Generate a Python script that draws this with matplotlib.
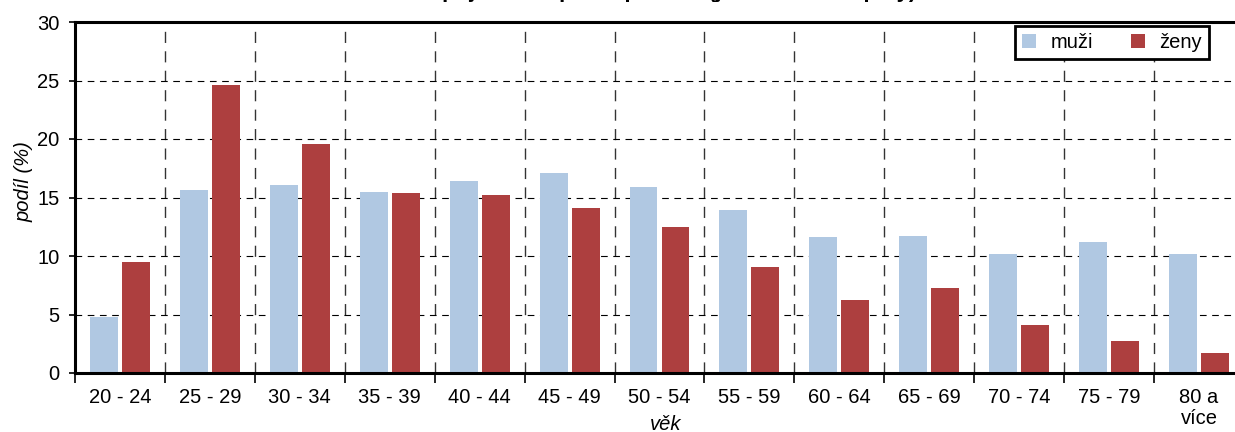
import matplotlib.pyplot as plt
import numpy as np

plt.rcParams['font.family'] = ['Liberation Sans', 'DejaVu Sans']
plt.rcParams['font.size'] = 14.5

# data
vek = ['20 - 24', '25 - 29', '30 - 34', '35 - 39', '40 - 44', '45 - 49',
       '50 - 54', '55 - 59', '60 - 64', '65 - 69', '70 - 74', '75 - 79',
       '80 a\nvíce']
muzi = [4.8, 15.6, 16.1, 15.5, 16.4, 17.1, 15.9, 13.9, 11.6, 11.7, 10.2, 11.2, 10.2]
zeny = [9.5, 24.6, 19.6, 15.4, 15.2, 14.1, 12.5, 9.1, 6.2, 7.3, 4.1, 2.7, 1.7]

modra = '#B0C8E2'
cervena = '#AD3F3F'

fig = plt.figure(figsize=(12.35, 4.32), dpi=100)
# right edge of the plot is cut off in the reference, so let the axes run past it
ax = fig.add_axes([75/1235, 59/432, 1169/1235, 351/432])

x = np.arange(len(vek))
w = 0.31
off = 0.178
ax.bar(x - off, muzi, w, color=modra, label='muži', zorder=3)
ax.bar(x + off, zeny, w, color=cervena, label='ženy', zorder=3)

ax.set_xlim(-0.5, len(vek) - 0.5)
ax.set_ylim(0, 30)
ax.set_yticks(np.arange(0, 31, 5))

ax.set_xticks(x)
ax.set_xticklabels(vek, va='top', linespacing=1.1)
ax.set_xticks(np.arange(-0.5, len(vek), 1), minor=True)
ax.tick_params(axis='x', which='major', length=0, pad=11)
ax.tick_params(axis='x', which='minor', length=7, width=1.2, direction='out')
ax.tick_params(axis='y', length=4.5, width=1.2, direction='out', pad=6.5)

# grid
ax.grid(axis='x', which='minor', color='#333333', linestyle=(0, (8, 6)), linewidth=1, zorder=1)
ax.grid(axis='y', which='major', color='black', linestyle=(0, (6, 5)), linewidth=0.8, zorder=1)
ax.grid(axis='x', which='major', visible=False)

for s in ['top', 'left', 'bottom', 'right']:
    ax.spines[s].set_linewidth(2.2)
ax.spines['bottom'].set_zorder(4)

ax.set_ylabel('podíl (%)', style='italic', va='center', ha='center')
ax.yaxis.set_label_coords(-0.0436, 0.545)
ax.set_xlabel('věk', style='italic', va='center')
ax.xaxis.set_label_coords(0.505, -0.147)

leg = ax.legend(loc='upper right', bbox_to_anchor=(0.970, 0.989), ncol=2,
                fancybox=False, edgecolor='black', framealpha=1,
                handlelength=0.7, handleheight=0.7, columnspacing=1.9,
                handletextpad=0.7, borderpad=0.35, borderaxespad=0)
leg.get_frame().set_linewidth(2)

# title is mostly above the visible area in the reference
fig.text(0.475, 1.0 + 3.5/432, 'Věková struktura pojištěnců podle pohlaví (jednotlivé skupiny)',
         ha='center', va='baseline', fontsize=16, fontweight='bold')

fig.savefig('out.png', dpi=100, facecolor='w')
